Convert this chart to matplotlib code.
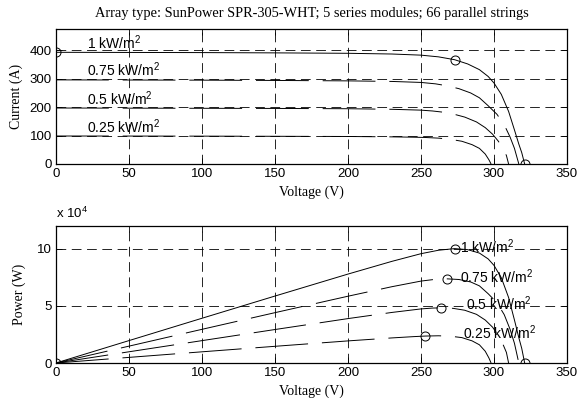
import matplotlib
matplotlib.use("Agg")
import matplotlib.pyplot as plt
from matplotlib.ticker import FuncFormatter
import numpy as np

# I-V data (voltage in V, current in A)
v_1000 = [0, 50, 100, 150, 200, 230, 250, 262, 273, 282, 290, 296, 300, 305, 310, 314, 317, 319, 321]
i_1000 = [393, 392.5, 392, 391, 389.5, 387, 383, 377, 367, 352, 332, 308, 285, 245, 185, 120, 70, 40, 0]

v_750 = [0, 50, 100, 150, 200, 230, 250, 260, 268, 276, 284, 290, 296, 302, 307, 311, 314, 317]
i_750 = [296, 295.5, 295, 294, 292.5, 290.5, 287, 282, 275, 265, 250, 233, 205, 175, 138, 95, 55, 0]

v_500 = [0, 50, 100, 150, 200, 230, 250, 258, 264, 272, 280, 288, 294, 299, 303, 306, 308.5, 310]
i_500 = [197, 196.5, 196, 195.5, 194.5, 192.5, 189.5, 186.5, 183, 176, 165, 148, 128, 105, 80, 55, 30, 0]

v_250 = [0, 50, 100, 150, 200, 230, 245, 253, 262, 270, 278, 285, 290, 294, 296.5, 298]
i_250 = [98.5, 98.3, 98, 97.5, 96.8, 95.5, 94.3, 93.3, 91, 87, 80, 68, 55, 35, 15, 0]

curves = [
    ("1 kW/m$^2$", v_1000, i_1000),
    ("0.75 kW/m$^2$", v_750, i_750),
    ("0.5 kW/m$^2$", v_500, i_500),
    ("0.25 kW/m$^2$", v_250, i_250),
]
mpp_index = [8, 8, 8, 7]

title = "Array type: SunPower SPR-305-WHT; 5 series modules; 66 parallel strings"

plt.rcParams["font.family"] = "Liberation Sans"
plt.rcParams["mathtext.default"] = "regular"
plt.rcParams["lines.scale_dashes"] = False
plt.rcParams["font.size"] = 9.5

serif = "Liberation Serif"
curve_dash = (0, (38, 10))
grid_kw = dict(color="black", linestyle=(0, (7, 4)), linewidth=0.6)
circ = dict(marker="o", markersize=6.5, markerfacecolor="none",
            markeredgecolor="black", markeredgewidth=0.7, linestyle="none")

fig = plt.figure(figsize=(5.78, 3.98), dpi=100)
W, H = 578, 398
ax1 = fig.add_axes([56 / W, 1 - 164 / H, 511 / W, 135 / H])
ax2 = fig.add_axes([56 / W, 1 - 363 / H, 511 / W, 137 / H])

for k, (lab, v, i) in enumerate(curves):
    v = np.array(v, dtype=float)
    i = np.array(i, dtype=float)
    ls = "-" if k == 0 else curve_dash
    ax1.plot(v, i, color="black", linewidth=0.7, linestyle=ls)
    ax2.plot(v, v * i, color="black", linewidth=0.7, linestyle=ls)
    m = mpp_index[k]
    ax2.plot(v[m], v[m] * i[m], **circ)
    ax1.text(21, i[0] + 12, lab, ha="left", va="baseline", fontsize=10)

label_x_p = [277, 277, 281, 278.5]
label_y_p = [9.6e4, 7.0e4, 4.63e4, 2.12e4]
for k, (lab, v, i) in enumerate(curves):
    ax2.text(label_x_p[k], label_y_p[k], lab, ha="left", va="baseline", fontsize=10)

# special points on the 1 kW/m2 curve
ax1.plot([v_1000[0], v_1000[8], v_1000[-1]], [i_1000[0], i_1000[8], i_1000[-1]], **circ)
ax2.plot([v_1000[0], v_1000[-1]], [0, 0], **circ)

for ax in (ax1, ax2):
    ax.set_xlim(0, 350)
    ax.set_xticks(np.arange(0, 351, 50))
    ax.grid(True, **grid_kw)
    ax.tick_params(direction="in", length=4, width=0.6, labelsize=9.5, pad=3)
    ax.tick_params(top=True, right=True)
    for s in ax.spines.values():
        s.set_linewidth(0.9)
    ax.set_xlabel("Voltage (V)", family=serif, fontsize=10, labelpad=4)

ax1.set_ylim(0, 475)
ax1.set_yticks([0, 100, 200, 300, 400])
ax1.set_ylabel("Current (A)", family=serif, fontsize=10, labelpad=5)
ax1.set_title(title, family=serif, fontsize=10.4, pad=9)

ax2.set_ylim(0, 12e4)
ax2.set_yticks([0, 5e4, 10e4])
ax2.yaxis.set_major_formatter(FuncFormatter(lambda y, p: f"{y / 1e4:g}"))
ax2.set_ylabel("Power (W)", family=serif, fontsize=10, labelpad=8)
fig.text(56 / W, 1 - 218 / H, "x 10$^4$", ha="left", va="baseline", fontsize=9.5)

fig.savefig("out.png", dpi=100)
plt.close(fig)
